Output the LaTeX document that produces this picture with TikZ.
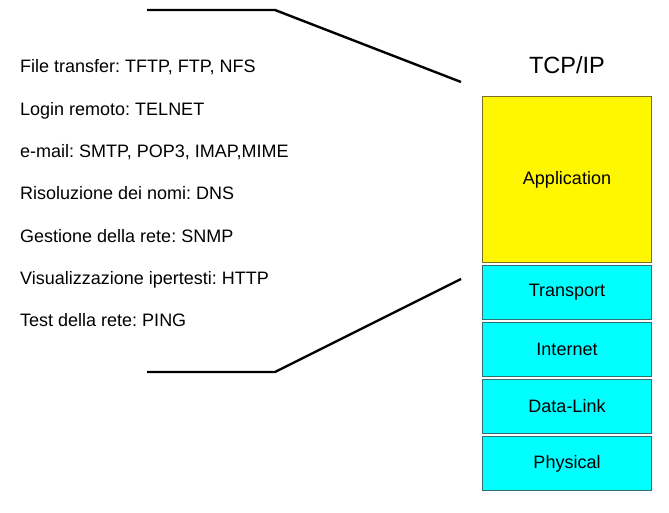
\documentclass[tikz,border=0pt]{standalone}
\usepackage{fontspec}
\setmainfont{Liberation Sans}
\usetikzlibrary{positioning}
\frenchspacing

\definecolor{appfill}{RGB}{255,247,0}
\definecolor{appline}{RGB}{120,110,40}
\definecolor{laycyan}{RGB}{0,255,255}
\definecolor{layline}{RGB}{50,110,110}

\begin{document}
\begin{tikzpicture}[x=1pt, y=-1pt,
    layer/.style={draw=layline, line width=1.3pt, fill=laycyan, minimum width=168.7pt,
        minimum height=53.7pt, inner sep=0pt, font=\fontsize{18pt}{20pt}\selectfont},
    app/.style={layer, draw=appline, fill=appfill, minimum height=165.7pt},
    proto/.style={anchor=base west, inner sep=0pt, font=\fontsize{18pt}{20pt}\selectfont},
    brace/.style={line width=2.4pt}
]
    \useasboundingbox (0,0) rectangle (669,513);
    % stack
    \node[app] (app) at (567,179.5) {Application};
    \node[layer, below=2pt of app] (tra) {Transport};
    \node[layer, below=2pt of tra] (int) {Internet};
    \node[layer, below=2pt of int] (dl) {Data-Link};
    \node[layer, below=2pt of dl] (phy) {Physical};
    \node[anchor=base, inner sep=0pt, font=\fontsize{23.5pt}{26pt}\selectfont] (tcpip) at (567,74) {TCP/IP};
    % protocols
    \node[proto] (p1) at (20,73) {File transfer: TFTP, FTP, NFS};
    \node[proto] (p2) at (20,115.3) {Login remoto: TELNET};
    \node[proto] (p3) at (20,157.6) {e-mail: SMTP, POP3, IMAP,MIME};
    \node[proto] (p4) at (20,199.9) {Risoluzione dei nomi: DNS};
    \node[proto] (p5) at (20,242.2) {Gestione della rete: SNMP};
    \node[proto] (p6) at (20,284.5) {Visualizzazione ipertesti: HTTP};
    \node[proto] (p7) at (20,326.8) {Test della rete: PING};
    % bracket lines
    \coordinate (ta) at (147,10);
    \coordinate (tb) at (275,10);
    \coordinate (tc) at (461,82);
    \coordinate (ba) at (147,372);
    \coordinate (bb) at (275,372);
    \coordinate (bc) at (461,279);
    \draw[brace] (ta) -- (tb) -- (tc);
    \draw[brace] (ba) -- (bb) -- (bc);
\end{tikzpicture}
\end{document}
